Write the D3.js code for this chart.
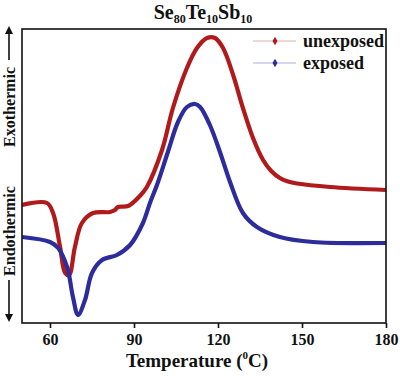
<!DOCTYPE html>
<html>
<head>
<meta charset="utf-8">
<script src="https://cdn.jsdelivr.net/npm/d3@7"></script>
<style>
body { margin: 0; background: #fff; }
text { font-family: "Liberation Serif", "DejaVu Serif", serif; font-weight: bold; fill: #111; }
</style>
</head>
<body>
<svg width="400" height="376"></svg>
<script>
// temperature (C) and heat flow (arbitrary units)
var unexposedT = [50, 58.9, 61.1, 63.6, 65.4, 66.8, 68.9, 71.4, 75.4, 81.4, 83.2, 84.3, 87.9, 92.1, 94.6,
    100, 103.9, 108.9, 112.5, 116.1, 118.9, 121.8, 125.4, 128.9, 132.5, 136.1, 139, 142.1, 145, 148.2, 160, 180];
var unexposedV = [120, 122, 112, 78, 52, 50, 78, 102, 112, 113, 115, 118, 119, 129, 138,
    175, 217, 257, 277, 287, 287, 277, 250, 217, 187, 165, 154, 147, 143.5, 141.5, 138, 135];

var exposedT = [50, 60, 62.9, 66.1, 68.2, 70, 72.5, 75, 78.6, 83.9, 88.6, 93.2, 95.7, 98.2, 102.1,
    105.7, 108.9, 111.8, 113.6, 117.1, 120.7, 124.3, 128.9, 133.9, 142.1, 153.9, 180];
var exposedV = [88, 83, 77, 58, 28, 10, 25, 52, 65, 70, 80, 102, 122, 140, 173,
    203, 218, 221, 218, 200, 173, 143, 112, 98, 88, 83, 82];

var xTicks = [60, 90, 120, 150, 180];
var seriesNames = ["unexposed", "exposed"];
var seriesColors = ["#b01a1a", "#2c2c9c"];
var legendColors = ["#ecc8c8", "#c8c8ec"];

var svg = d3.select("svg");

var plotLeft = 22, plotRight = 386, plotTop = 29, plotBottom = 323;

var x = d3.scaleLinear().domain([50, 180]).range([plotLeft, plotRight]);
var y = d3.scaleLinear().domain([2, 296]).range([plotBottom, plotTop]);

var series = [
    unexposedT.map(function(t, i) { return [t, unexposedV[i]]; }),
    exposedT.map(function(t, i) { return [t, exposedV[i]]; })
];

var line = d3.line()
    .x(function(d) { return x(d[0]); })
    .y(function(d) { return y(d[1]); })
    .curve(d3.curveCatmullRom.alpha(0.5));

var defs = svg.append("defs");
defs.append("clipPath").attr("id", "plot")
    .append("rect")
    .attr("x", plotLeft).attr("y", plotTop)
    .attr("width", plotRight - plotLeft).attr("height", plotBottom - plotTop);

svg.append("g")
    .attr("clip-path", "url(#plot)")
    .selectAll("path")
    .data(series)
    .enter().append("path")
    .attr("d", line)
    .attr("fill", "none")
    .attr("stroke", function(d, i) { return seriesColors[i]; })
    .attr("stroke-width", 4.2)
    .attr("stroke-linejoin", "round");

// frame
svg.append("rect")
    .attr("x", plotLeft).attr("y", plotTop)
    .attr("width", plotRight - plotLeft).attr("height", plotBottom - plotTop)
    .attr("fill", "none")
    .attr("stroke", "#111")
    .attr("stroke-width", 1.6);

var xAxis = svg.append("g")
    .attr("transform", "translate(0," + plotBottom + ")")
    .call(d3.axisBottom(x).tickValues(xTicks).tickSize(5).tickPadding(6).tickSizeOuter(0));
xAxis.select(".domain").remove();
xAxis.selectAll("line").attr("stroke", "#111").attr("stroke-width", 1.6);
xAxis.selectAll("text")
    .style("font-size", "16px")
    .style("font-family", "Liberation Serif, serif")
    .style("font-weight", "bold")
    .attr("fill", "#111");

// title
var title = svg.append("text")
    .attr("x", 203).attr("y", 19)
    .attr("text-anchor", "middle")
    .style("font-size", "20px");
[["Se", false], ["80", true], ["Te", false], ["10", true], ["Sb", false], ["10", true]].forEach(function(p, i) {
    var t = title.append("tspan").text(p[0]);
    if (p[1]) {
        t.style("font-size", "12px").attr("dy", 4);
    } else if (i > 0) {
        t.attr("dy", -4);
    }
});

// x axis title
var xt = svg.append("text")
    .attr("x", 197).attr("y", 367)
    .attr("text-anchor", "middle")
    .style("font-size", "19px");
xt.append("tspan").text("Temperature (");
xt.append("tspan").text("0").style("font-size", "11px").attr("dy", -8);
xt.append("tspan").text("C)").attr("dy", 8);

// y axis labels with arrows
defs.append("marker")
    .attr("id", "arrow")
    .attr("viewBox", "0 0 10 10")
    .attr("refX", 5).attr("refY", 5)
    .attr("markerWidth", 5).attr("markerHeight", 6)
    .attr("orient", "auto")
    .append("path")
    .attr("d", "M0,0 L10,5 L0,10 Z")
    .attr("fill", "#111");

svg.append("text")
    .attr("transform", "translate(15,107) rotate(-90)")
    .attr("text-anchor", "middle")
    .style("font-size", "16px")
    .text("Exothermic");
svg.append("line")
    .attr("x1", 9).attr("x2", 9).attr("y1", 60).attr("y2", 30)
    .attr("stroke", "#111").attr("stroke-width", 1.6)
    .attr("marker-end", "url(#arrow)");

svg.append("text")
    .attr("transform", "translate(15,231) rotate(-90)")
    .attr("text-anchor", "middle")
    .style("font-size", "16px")
    .text("Endothermic");
svg.append("line")
    .attr("x1", 9).attr("x2", 9).attr("y1", 280).attr("y2", 318)
    .attr("stroke", "#111").attr("stroke-width", 1.6)
    .attr("marker-end", "url(#arrow)");

// legend
var legend = svg.append("g")
    .selectAll("g")
    .data(seriesNames)
    .enter().append("g")
    .attr("transform", function(d, i) { return "translate(0," + (41 + i * 22) + ")"; });

legend.append("line")
    .attr("x1", 253).attr("x2", 296)
    .attr("stroke", function(d, i) { return legendColors[i]; })
    .attr("stroke-width", 1.5);

legend.append("path")
    .attr("d", d3.symbol().type(d3.symbolDiamond).size(22))
    .attr("transform", "translate(275,0)")
    .attr("fill", function(d, i) { return seriesColors[i]; });

legend.append("text")
    .attr("x", 303).attr("y", 6)
    .style("font-size", "18px")
    .text(function(d) { return d; });
</script>
</body>
</html>
